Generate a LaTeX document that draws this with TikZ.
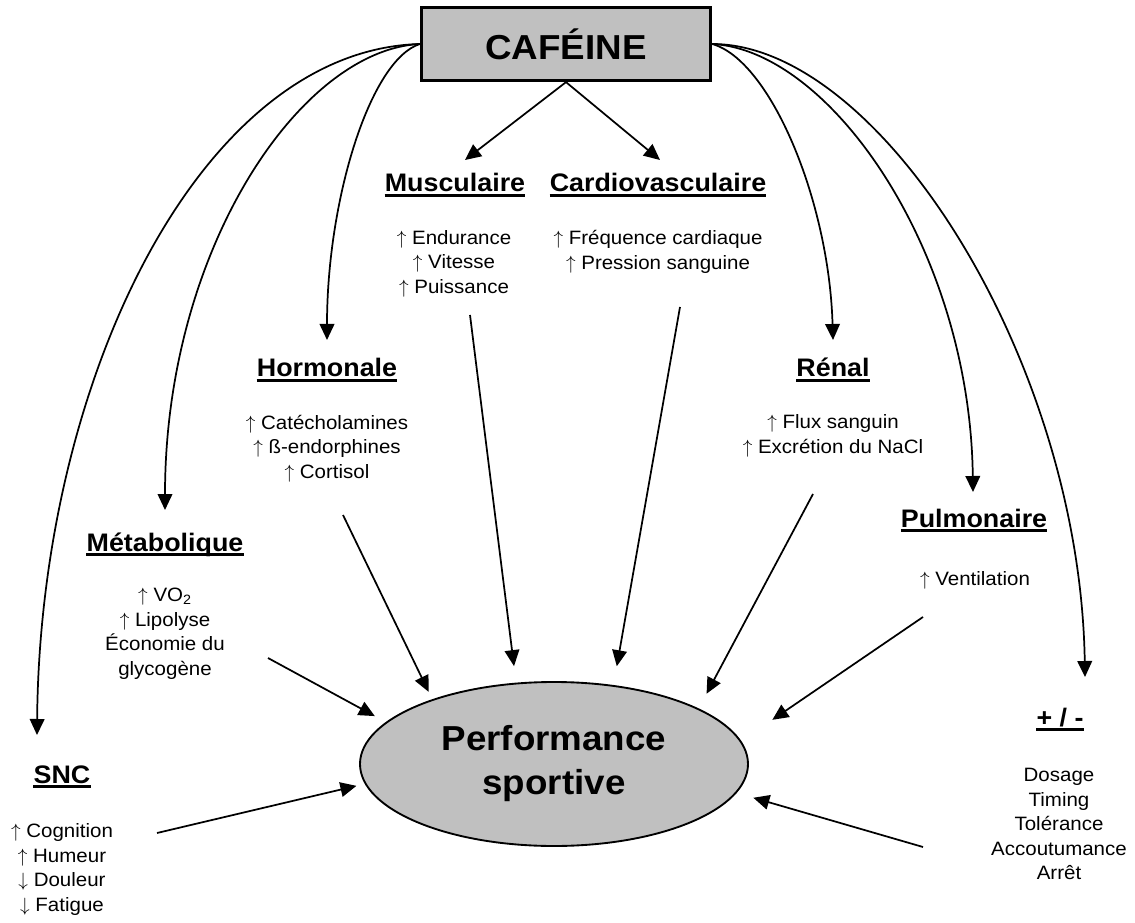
\documentclass[tikz,border=0pt]{standalone}
\usepackage{fontspec}
\setmainfont{Liberation Sans}[FakeStretch=1.06]
\usetikzlibrary{arrows.meta,shapes.geometric}
\definecolor{boxgray}{HTML}{C0C0C0}
\newcommand\uarr{$\uparrow$}
\newcommand\darr{$\downarrow$}
\begin{document}
\begin{tikzpicture}[x=0.75pt,y=-0.75pt,
  conn/.style={line width=1.3pt,-{Triangle[length=12pt,width=11pt]}},
  head/.style={font=\fontsize{19}{22}\selectfont\bfseries, inner sep=0pt, anchor=base},
  items/.style={font=\fontsize{14.5}{18.4}\selectfont, align=center, inner sep=0pt, anchor=north, execute at begin node=\strut},
  ul/.style={line width=1.6pt}]
\useasboundingbox (0,0) rectangle (1135,923);

% central nodes
\node[draw, line width=2.2pt, fill=boxgray, minimum width=217pt, minimum height=55pt, inner sep=0pt,
      font=\fontsize{26}{30}\selectfont\bfseries] (caf) at (566,44) {CAFÉINE};
\node[ellipse, draw, line width=1.4pt, fill=boxgray, minimum width=291pt, minimum height=123pt, inner sep=0pt,
      align=center, font=\fontsize{26}{33}\selectfont\bfseries] (perf) at (554,764) {Performance\\sportive};

% headings
\node[head] (hMus) at (455,192) {Musculaire};
\node[head] (hCar) at (658,192) {Cardiovasculaire};
\node[head] (hHor) at (327,377) {Hormonale};
\node[head] (hRen) at (833,377) {Rénal};
\node[head] (hMet) at (165,551) {Métabolique};
\node[head] (hPul) at (974,527) {Pulmonaire};
\node[head] (hSnc) at (62,783) {SNC};
\node[head] (hPm) at (1060,726) {+ / -};
\foreach \h in {hMus,hCar,hHor,hRen,hMet,hPul,hSnc,hPm}
  \draw[ul] ([yshift=-2.6pt]\h.base west) -- ([yshift=-2.6pt]\h.base east);

% item lists
\node[items] (iMus) at (454,230) {\uarr{} Endurance\\\uarr{} Vitesse\\\uarr{} Puissance};
\node[items] (iCar) at (658,230) {\uarr{} Fréquence cardiaque\\\uarr{} Pression sanguine};
\node[items] (iHor) at (327,414.5) {\uarr{} Catécholamines\\\uarr{} ß-endorphines\\\uarr{} Cortisol};
\node[items] (iRen) at (833,414.5) {\uarr{} Flux sanguin\\\uarr{} Excrétion du NaCl};
\node[items] (iMet) at (165,588) {\uarr{} VO\textsubscript{2}\\\uarr{} Lipolyse\\Économie du\\glycogène};
\node[items] (iPul) at (975,568) {\uarr{} Ventilation};
\node[items] (iSnc) at (62,823.5) {\uarr{} Cognition\\\uarr{} Humeur\\\darr{} Douleur\\\darr{} Fatigue};
\node[items] (iPm) at (1059,768) {Dosage\\Timing\\Tolérance\\Accoutumance\\Arrêt};

% free ends
\coordinate (kMus) at (465,160);
\coordinate (kCar) at (660,160);
\coordinate (kHor) at (327,340);
\coordinate (kRen) at (833,340);
\coordinate (kMet) at (165,510);
\coordinate (kPul) at (973,492);
\coordinate (kSnc) at (37,735);
\coordinate (kPm) at (1085,677);

\coordinate (sMus) at (470,315);
\coordinate (sCar) at (680,307);
\coordinate (sHor) at (343,515);
\coordinate (sRen) at (813,494);
\coordinate (sMet) at (268,658);
\coordinate (sPul) at (923,617);
\coordinate (sSnc) at (157,833);
\coordinate (sPm) at (923,847);

% from caffeine
\draw[conn] (caf.south) -- (kMus);
\draw[conn] (caf.south) -- (kCar);
\draw[conn] (caf.west) .. controls (370,60) and (327,200) .. (kHor);
\draw[conn] (caf.west) .. controls (300,50) and (165,250) .. (kMet);
\draw[conn] (caf.west) .. controls (200,50) and (40,380) .. (kSnc);
\draw[conn] (caf.east) .. controls (770,60) and (829,200) .. (kRen);
\draw[conn] (caf.east) .. controls (830,50) and (970,250) .. (kPul);
\draw[conn] (caf.east) .. controls (880,44) and (1080,360) .. (kPm);

% to performance
\draw[conn, shorten >=12.5pt] (sMus) -- (perf.115.9);
\draw[conn, shorten >=14.3pt] (sCar) -- (perf.53.1);
\draw[conn, shorten >=6.2pt] (sHor) -- (perf.152.6);
\draw[conn, shorten >=12.5pt] (sRen) -- (perf.21.8);
\draw[conn, shorten >=9.4pt] (sMet) -- (perf.166.3);
\draw[conn, shorten >=28.2pt] (sPul) -- (perf.7.8);
\draw[conn, shorten >=6.4pt] (sSnc) -- (perf.186.4);
\draw[conn, shorten >=13pt] (sPm) -- (perf.351.2);
\end{tikzpicture}
\end{document}
